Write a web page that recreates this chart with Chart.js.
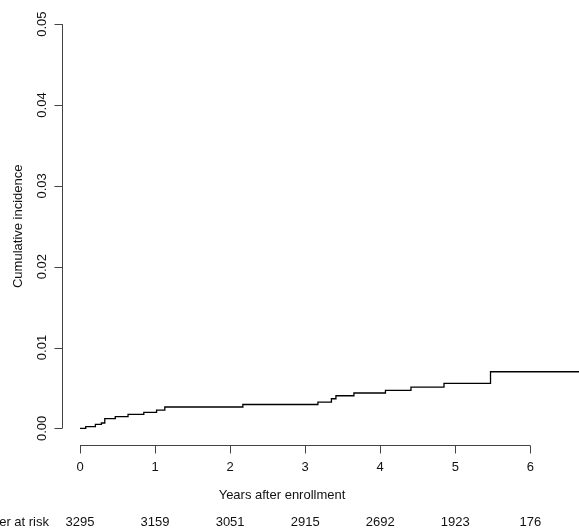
<!DOCTYPE html>
<html>
<head>
<meta charset="utf-8">
<script src="https://cdn.jsdelivr.net/npm/chart.js@4"></script>
<style>
  html, body { margin: 0; padding: 0; background: #fff; }
  canvas { display: block; }
</style>
</head>
<body>
<canvas id="cif" width="579" height="528"></canvas>
<script>
// step times (years) and cumulative incidence
const years = [0, 0.076, 0.205, 0.285, 0.33, 0.47, 0.64, 0.85, 1.02, 1.13, 2.17, 3.17, 3.35, 3.41, 3.65, 4.07, 4.41, 4.85, 5.47, 6.65];
const incidence = [0, 0.0002, 0.0005, 0.00066, 0.0012, 0.00144, 0.00173, 0.00198, 0.00226, 0.00264, 0.00295, 0.00325, 0.00366, 0.00403, 0.00437, 0.0047, 0.00511, 0.00557, 0.007, 0.007];

const xTicks = [0, 1, 2, 3, 4, 5, 6];
const yTicks = [0, 0.01, 0.02, 0.03, 0.04, 0.05];
const atRisk = [3295, 3159, 3051, 2915, 2692, 1923, 176];

const FONT = '13px "Liberation Sans", Arial, sans-serif';

// R-style axes, drawn from the chart's own scales
const baseAxes = {
    id: 'baseAxes',
    afterDraw(chart) {
        const ctx = chart.ctx;
        const xs = chart.scales.x;
        const ys = chart.scales.y;
        const area = chart.chartArea;
        ctx.save();
        ctx.strokeStyle = '#444';
        ctx.lineWidth = 1;
        ctx.fillStyle = '#111';
        ctx.font = FONT;

        // y axis
        const ax = Math.round(area.left) + 0.5;
        ctx.beginPath();
        ctx.moveTo(ax, ys.getPixelForValue(yTicks[0]));
        ctx.lineTo(ax, ys.getPixelForValue(yTicks[yTicks.length - 1]));
        yTicks.forEach(v => {
            const py = Math.round(ys.getPixelForValue(v)) + 0.5;
            ctx.moveTo(ax, py);
            ctx.lineTo(ax - 8, py);
        });
        ctx.stroke();
        ctx.textAlign = 'center';
        ctx.textBaseline = 'middle';
        yTicks.forEach(v => {
            ctx.save();
            ctx.translate(42, ys.getPixelForValue(v));
            ctx.rotate(-Math.PI / 2);
            ctx.fillText(v.toFixed(2), 0, 0);
            ctx.restore();
        });
        ctx.save();
        ctx.translate(18, (area.top + area.bottom) / 2);
        ctx.rotate(-Math.PI / 2);
        ctx.fillText('Cumulative incidence', 0, 0);
        ctx.restore();

        // x axis
        const by = Math.round(area.bottom) + 0.5;
        ctx.beginPath();
        ctx.moveTo(xs.getPixelForValue(xTicks[0]), by);
        ctx.lineTo(xs.getPixelForValue(xTicks[xTicks.length - 1]), by);
        xTicks.forEach(v => {
            const px = Math.round(xs.getPixelForValue(v)) + 0.5;
            ctx.moveTo(px, by);
            ctx.lineTo(px, by + 8);
        });
        ctx.stroke();
        xTicks.forEach(v => {
            ctx.fillText(String(v), xs.getPixelForValue(v), 467);
        });
        ctx.fillText('Years after enrollment', 282, 495);

        // number at risk row
        xTicks.forEach((v, i) => {
            ctx.fillText(String(atRisk[i]), xs.getPixelForValue(v), 522);
        });
        ctx.textAlign = 'right';
        ctx.fillText('Number at risk', 49, 522);
        ctx.restore();
    }
};

new Chart(document.getElementById('cif').getContext('2d'), {
    type: 'line',
    data: {
        datasets: [{
            data: years.map((t, i) => ({ x: t, y: incidence[i] })),
            stepped: true,
            borderColor: '#000',
            borderWidth: 1.3,
            pointRadius: 0,
            fill: false
        }]
    },
    options: {
        responsive: false,
        animation: false,
        layout: { padding: { left: 62, top: 8, right: 0, bottom: 83.5 } },
        plugins: { legend: { display: false }, tooltip: { enabled: false } },
        scales: {
            x: { type: 'linear', min: -0.24, max: 6.649, display: false },
            y: { type: 'linear', min: -0.002, max: 0.052, display: false }
        }
    },
    plugins: [baseAxes]
});
</script>
</body>
</html>
